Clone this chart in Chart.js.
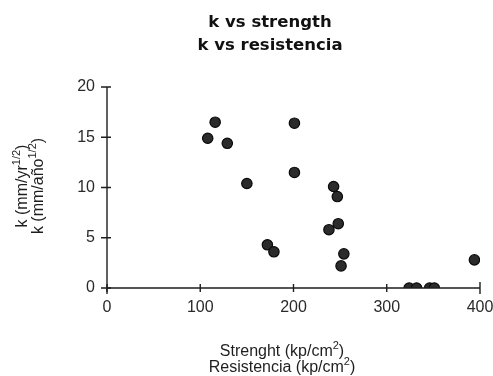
<!DOCTYPE html>
<html>
<head>
<meta charset="utf-8">
<script src="https://cdn.jsdelivr.net/npm/chart.js@4.4.0/dist/chart.umd.min.js"></script>
<style>
  html, body { margin: 0; padding: 0; background: #fff; }
  #wrap { width: 493px; height: 376px; position: relative; }
</style>
</head>
<body>
<div id="wrap"><canvas id="c" width="493" height="376"></canvas></div>
<script>
// ---- Data ----
const strength = [108, 116, 129, 150, 201, 201, 172, 179, 238, 248, 243, 247, 254, 251, 394, 324, 332, 346, 351];
const kValues  = [14.9, 16.5, 14.4, 10.4, 16.4, 11.5, 4.3, 3.6, 5.8, 6.4, 10.1, 9.1, 3.4, 2.2, 2.8, 0, 0, 0, 0];
const xTicks = [0, 100, 200, 300, 400];
const yTicks = [0, 5, 10, 15, 20];
const titleLines = ['k vs strength', 'k vs resistencia'];
const xTitleLines = [[['Strenght (kp/cm', false], ['2', true], [')', false]],
                     [['Resistencia (kp/cm', false], ['2', true], [')', false]]];
const yTitleLines = [[['k (mm/yr', false], ['1/2', true], [')', false]],
                     [['k (mm/año', false], ['1/2', true], [')', false]]];

const points = strength.map((s, i) => ({ x: s, y: kValues[i] }));
const FONT = '"Liberation Sans", Arial, Helvetica, sans-serif';
const INK = '#1e1e1e';

function drawRich(ctx, parts, cx, cy, size) {
  const supSize = Math.round(size * 0.68);
  let total = 0;
  const widths = parts.map(([t, sup]) => {
    ctx.font = (sup ? supSize : size) + 'px ' + FONT;
    const w = ctx.measureText(t).width;
    total += w;
    return w;
  });
  let x = cx - total / 2;
  ctx.textAlign = 'left';
  ctx.textBaseline = 'alphabetic';
  parts.forEach(([t, sup], i) => {
    ctx.font = (sup ? supSize : size) + 'px ' + FONT;
    ctx.fillText(t, x, sup ? cy - size * 0.42 : cy);
    x += widths[i];
  });
}

const decor = {
  id: 'decor',
  afterDraw(chart) {
    const ctx = chart.ctx;
    const xs = chart.scales.x, ys = chart.scales.y;
    const L = chart.chartArea.left, R = chart.chartArea.right;
    const T = chart.chartArea.top, B = chart.chartArea.bottom;
    ctx.save();
    ctx.strokeStyle = INK;
    ctx.lineWidth = 1.4;
    // axis lines
    ctx.beginPath();
    ctx.moveTo(L, T); ctx.lineTo(L, B + 6);
    ctx.moveTo(L, B); ctx.lineTo(R, B);
    ctx.stroke();
    // ticks crossing the axes
    ctx.beginPath();
    yTicks.forEach(v => {
      const py = ys.getPixelForValue(v);
      ctx.moveTo(L - 6, py); ctx.lineTo(L + 4, py);
    });
    xTicks.forEach(v => {
      const px = xs.getPixelForValue(v);
      const len = (v === 400) ? 6 : 4;
      ctx.moveTo(px, B - len); ctx.lineTo(px, B + len);
    });
    ctx.stroke();

    // title
    ctx.fillStyle = '#111';
    ctx.textAlign = 'center';
    ctx.textBaseline = 'alphabetic';
    ctx.font = 'bold 16.5px "DejaVu Sans", Verdana, sans-serif';
    ctx.fillText(titleLines[0], 270, 27);
    ctx.fillText(titleLines[1], 270, 50);

    // x title
    ctx.fillStyle = INK;
    drawRich(ctx, xTitleLines[0], 282, 356, 16);
    drawRich(ctx, xTitleLines[1], 282, 372, 16);

    // y title (rotated)
    ctx.save();
    ctx.translate(22, 186);
    ctx.rotate(-Math.PI / 2);
    drawRich(ctx, yTitleLines[0], 0, 5, 16);
    drawRich(ctx, yTitleLines[1], 0, 21, 16);
    ctx.restore();
    ctx.restore();
  }
};

new Chart(document.getElementById('c'), {
  type: 'scatter',
  data: {
    datasets: [{
      data: points,
      backgroundColor: '#2b2b2b',
      borderColor: '#0a0a0a',
      borderWidth: 1.2,
      pointRadius: 5.2,
      pointHoverRadius: 5.2
    }]
  },
  options: {
    responsive: false,
    animation: false,
    events: [],
    layout: { padding: { top: 87, right: 13, left: 0, bottom: 0 } },
    plugins: { legend: { display: false }, title: { display: false }, tooltip: { enabled: false } },
    scales: {
      x: {
        type: 'linear', min: 0, max: 400,
        afterBuildTicks: s => { s.ticks = xTicks.map(v => ({ value: v })); },
        afterFit: s => { s.height = 376 - 288; s.paddingLeft = 0; s.paddingRight = 0; },
        grid: { display: false, drawTicks: false },
        border: { display: false },
        ticks: { color: '#2a2a2a', font: { family: FONT, size: 16 }, padding: 10, maxRotation: 0 }
      },
      y: {
        type: 'linear', min: 0, max: 20,
        afterBuildTicks: s => { s.ticks = yTicks.map(v => ({ value: v })); },
        afterFit: s => { s.width = 107; s.paddingTop = 0; s.paddingBottom = 0; },
        grid: { display: false, drawTicks: false },
        border: { display: false },
        ticks: { color: '#2a2a2a', font: { family: FONT, size: 16 }, padding: 12 }
      }
    }
  },
  plugins: [decor]
});
</script>
</body>
</html>
